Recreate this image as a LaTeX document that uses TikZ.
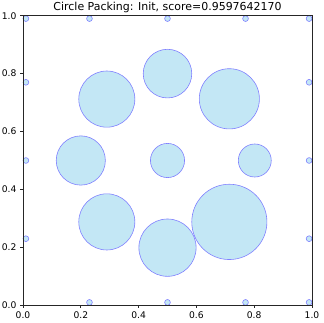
\documentclass[tikz,border=0pt]{standalone}
\usepackage{fontspec}
\setmainfont{DejaVu Sans}
\definecolor{packfill}{HTML}{C3E7F5}
\definecolor{packedge}{HTML}{8080FF}
\definecolor{spinegray}{HTML}{262626}
\tikzset{
  packcircle/.style={fill=packfill, draw=packedge, line width=0.6bp},
  spine/.style={spinegray, line width=0.74bp},
  tickmark/.style={spinegray, line width=0.74bp},
  ticklabel/.style={font=\fontsize{9.2}{11}\selectfont, inner sep=0pt},
  plottitle/.style={font=\fontsize{11}{13}\selectfont, inner sep=0pt}
}

\begin{document}
\begin{tikzpicture}
\useasboundingbox (0,0) rectangle (324bp,323bp);

% axes area in data units
\begin{scope}[shift={(23bp,17.7bp)}, x=289bp, y=289.6bp]

% big circles
\foreach \cx/\cy/\r in {0.5/0.8/0.084, 0.29/0.712/0.097, 0.714/0.713/0.104,
                        0.2/0.5/0.085, 0.5/0.5/0.059, 0.802/0.5/0.057,
                        0.29/0.288/0.097, 0.5/0.199/0.099, 0.714/0.288/0.130} {
  \draw[packcircle] (\cx,\cy) circle[radius=\r];
}

% small circles along the border
\foreach \cx/\cy in {0.01/0.99, 0.23/0.99, 0.5/0.99, 0.77/0.99, 0.99/0.99,
                     0.01/0.77, 0.01/0.5, 0.01/0.23,
                     0.99/0.77, 0.99/0.5, 0.99/0.23,
                     0.23/0.01, 0.5/0.01, 0.77/0.01, 0.99/0.01} {
  \draw[packcircle] (\cx,\cy) circle[radius=0.01];
}

% frame
\draw[spine] (0,0) rectangle (1,1);

% ticks and labels
\foreach \v/\t [count=\i] in {0/0.0, 0.2/0.2, 0.4/0.4, 0.6/0.6, 0.8/0.8, 1/1.0} {
  \draw[tickmark] (\v,0) -- ++(0,-3.2bp);
  \draw[tickmark] (0,\v) -- ++(-3.2bp,0);
  \node[ticklabel, anchor=north] (xl\i) at ([yshift=-6.4bp]\v,0) {\t};
  \node[ticklabel, anchor=east] (yl\i) at ([xshift=-6.4bp]0,\v) {\t};
}

% title
\node[plottitle, anchor=base] (title) at ([yshift=5.5bp]0.5,1)
  {Circle Packing: Init, score=0.9597642170};

\end{scope}
\end{tikzpicture}
\end{document}
